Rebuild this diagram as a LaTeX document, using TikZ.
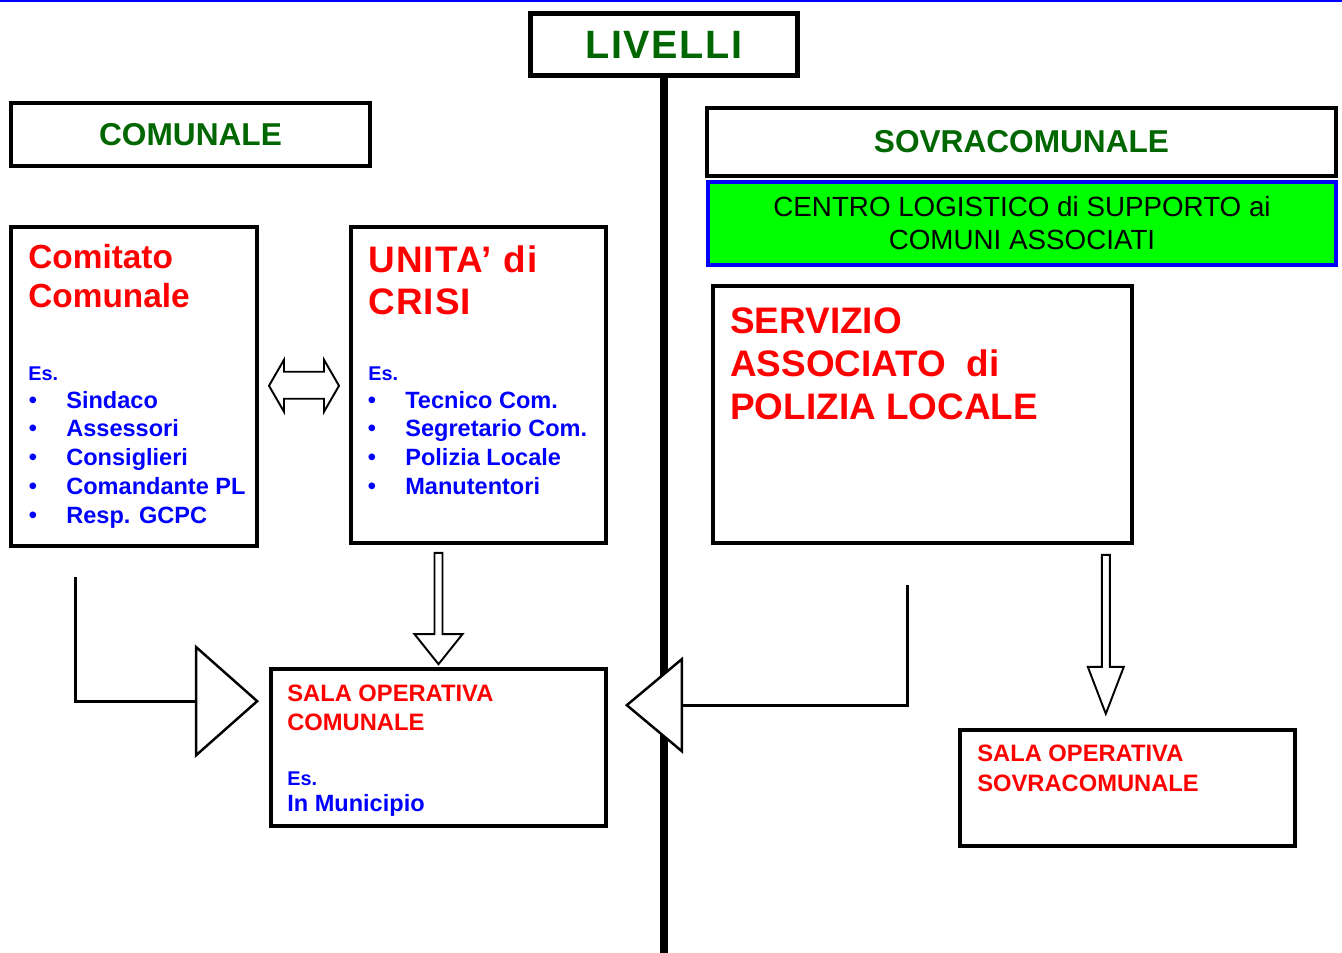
\documentclass[tikz,border=0pt]{standalone}
\usepackage{fontspec}
\setmainfont{Liberation Sans}
\usetikzlibrary{calc}

\definecolor{levelgreen}{RGB}{0,102,0}
\definecolor{centregreen}{RGB}{0,255,0}
\definecolor{headred}{RGB}{255,0,0}
\definecolor{itemblue}{RGB}{0,0,255}

\begin{document}
\begin{tikzpicture}[x=0.02cm, y=-0.02cm,
    box/.style={draw, line width=2.1pt, inner sep=0pt},
    title/.style={text=levelgreen, font=\bfseries\fontsize{18}{22}\selectfont},
    head/.style={anchor=base west, inner sep=0pt, text=headred},
    es/.style={anchor=base west, inner sep=0pt, text=itemblue, font=\bfseries\fontsize{11.3}{13}\selectfont},
    item/.style={anchor=base west, inner sep=0pt, text=itemblue, font=\bfseries\fontsize{13.4}{15}\selectfont},
    dot/.style={anchor=base, inner sep=0pt, text=itemblue, font=\fontsize{14}{15}\selectfont},
    axis/.style={line width=4.1pt},
    link/.style={line width=1.7pt},
    tri/.style={draw, fill=white, line width=1.4pt, line join=miter},
    hollow/.style={draw, fill=white, line width=1.1pt}]

    \useasboundingbox (0,0) rectangle (1342,953);
    \draw[blue, line width=0.9pt] (0,0.8) -- (1342,0.8);

    % levels
    \node[box, line width=3.3pt, minimum width=5.34cm, minimum height=1.24cm,
          text=levelgreen, font=\bfseries\fontsize{22.5}{26}\selectfont] (livelli) at (664,44.5)
          {\addfontfeature{LetterSpace=4}LIVELLI};
    \draw[axis] (livelli.south) -- (livelli.south |- 0,953);

    \node[box, title, minimum width=7.19cm, minimum height=1.27cm] (comunale) at (190.5,134.5) {COMUNALE};
    \node[box, title, minimum width=12.58cm, minimum height=1.36cm] (sovra) at (1021.5,142) {SOVRACOMUNALE};
    \node[box, draw=blue, fill=centregreen, line width=2.4pt, minimum width=12.56cm, minimum height=1.66cm,
          align=center, font=\fontsize{15.8}{18.7}\selectfont] (centro) at (1022,223.5)
          {CENTRO LOGISTICO di SUPPORTO ai\\COMUNI ASSOCIATI};

    % boxes
    \node[box, minimum width=4.92cm, minimum height=6.38cm] (comitato) at (134,386.5) {};
    \node[box, minimum width=5.10cm, minimum height=6.32cm] (unita) at (478.5,385) {};
    \node[box, minimum width=8.38cm, minimum height=5.14cm] (servizio) at (922.5,414.5) {};
    \node[box, minimum width=6.70cm, minimum height=3.14cm] (salacom) at (438.5,747.5) {};
    \node[box, minimum width=6.70cm, minimum height=2.32cm] (salasovra) at (1127.5,788) {};

    % Comitato Comunale
    \node[head, font=\bfseries\fontsize{19}{23}\selectfont] (cc1) at (28,268) {Comitato};
    \node[head, font=\bfseries\fontsize{19}{23}\selectfont] (cc2) at (28,307) {Comunale};
    \node[es] (cces) at (28,380) {Es.};
    \foreach \txt [count=\i] in {Sindaco, Assessori, Consiglieri, Comandante PL, Resp. GCPC} {
        \node[dot] (ccdot\i) at (33, 379.25+28.75*\i) {\textbullet};
        \node[item] (ccitem\i) at (66, 379.25+28.75*\i) {\txt};
    }

    % Unita di crisi
    \node[head, font=\bfseries\fontsize{21}{25}\selectfont] (uc1) at (368,272) {\addfontfeature{LetterSpace=3}UNITA’ di};
    \node[head, font=\bfseries\fontsize{21}{25}\selectfont] (uc2) at (368,314) {\addfontfeature{LetterSpace=3}CRISI};
    \node[es] (uces) at (368,380) {Es.};
    \foreach \txt [count=\i] in {Tecnico Com., Segretario Com., Polizia Locale, Manutentori} {
        \node[dot] (ucdot\i) at (372, 379.25+28.75*\i) {\textbullet};
        \node[item] (ucitem\i) at (405, 379.25+28.75*\i) {\txt};
    }

    % Servizio associato
    \node[head, font=\bfseries\fontsize{21}{25}\selectfont] (sp1) at (730,333) {SERVIZIO};
    \node[head, font=\bfseries\fontsize{21}{25}\selectfont] (sp2) at (730,376) {ASSOCIATO\ \ di};
    \node[head, font=\bfseries\fontsize{21}{25}\selectfont] (sp3) at (730,419) {POLIZIA LOCALE};

    % sale operative
    \node[head, font=\bfseries\fontsize{13.5}{15}\selectfont] (so1) at (287,701) {SALA OPERATIVA};
    \node[head, font=\bfseries\fontsize{13.5}{15}\selectfont] (so2) at (287,730) {COMUNALE};
    \node[es] (soes) at (287,785) {Es.};
    \node[item] (soitem) at (287,811) {In Municipio};
    \node[head, font=\bfseries\fontsize{13.5}{15}\selectfont] (ss1) at (977,761) {SALA OPERATIVA};
    \node[head, font=\bfseries\fontsize{13.5}{15}\selectfont] (ss2) at (977,791) {SOVRACOMUNALE};

    % double arrow
    \coordinate (dblmid) at ($(comitato.east)!.5!(unita.west)$);
    \draw[hollow] ($(dblmid)+(-35,0)$) -- ++(15,-26) -- ++(0,12) -- ++(40,0) -- ++(0,-12)
        -- ++(15,26) -- ++(-15,26) -- ++(0,-13) -- ++(-40,0) -- ++(0,13) -- cycle;

    % arrow down to sala comunale
    \coordinate (ar1top) at (salacom.north |- unita.south);
    \coordinate (ar1tip) at ($(salacom.north)+(0,-3)$);
    \draw[hollow] ($(ar1top)+(-4,8)$) -- ($(ar1tip)+(-4,-30)$) -- ++(-20,0) -- (ar1tip)
        -- ++(24,-30) -- ++(-20,0) -- ($(ar1top)+(4,8)$) -- cycle;

    % arrow down to sala sovracomunale
    \coordinate (ar2top) at ($(servizio.south east)+(-28,10)$);
    \coordinate (ar2tip) at ($(ar2top)+(0,159)$);
    \draw[hollow] ($(ar2top)+(-4,0)$) -- ++(0,112) -- ++(-14,0) -- (ar2tip)
        -- ++(18,-47) -- ++(-14,0) -- ++(0,-112) -- cycle;

    % links into sala comunale
    \coordinate (ccstart) at ($(comitato.south west)+(66,29)$);
    \coordinate (tri1tip) at ($(salacom.north west)+(-12,34)$);
    \draw[link] (ccstart) |- ($(tri1tip)+(-61,0)$);
    \draw[tri] (tri1tip) -- ++(-61,-54) -- ++(0,108) -- cycle;

    \coordinate (spstart) at ($(servizio.south west)+(196,40)$);
    \coordinate (tri2tip) at ($(salacom.north east)+(19,38)$);
    \draw[link] (spstart) |- ($(tri2tip)+(55,0)$);
    \draw[tri] (tri2tip) -- ++(55,-46) -- ++(0,92) -- cycle;
\end{tikzpicture}
\end{document}
